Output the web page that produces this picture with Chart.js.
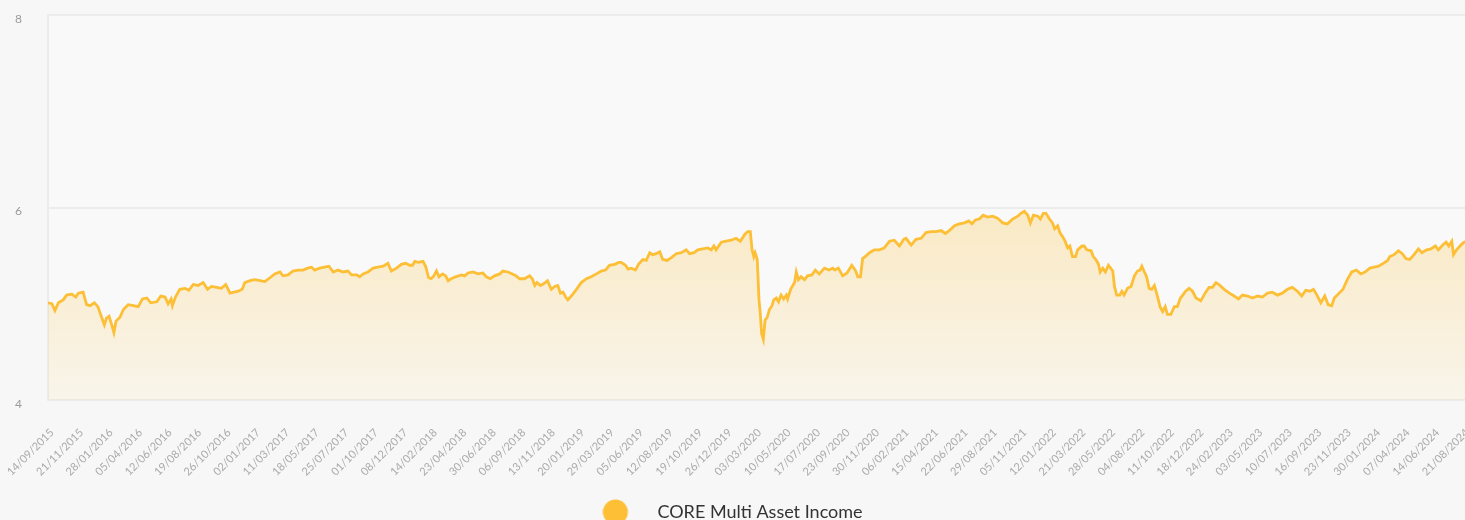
<!DOCTYPE html>
<html lang="en">
<head>
<meta charset="utf-8">
<title>CORE Multi Asset Income</title>
<script src="https://cdn.jsdelivr.net/npm/chart.js@4.4.1/dist/chart.umd.min.js"></script>
<style>
  html, body { margin: 0; padding: 0; background: #f7f7f7; overflow: hidden; }
  #wrap { width: 1471px; height: 531px; }
</style>
</head>
<body>
<div id="wrap"><canvas id="mycanvas" width="1471" height="531"></canvas></div>

<script>
const seriesName = 'CORE Multi Asset Income';
const startDate = '14/09/2015';

// x axis labels (every 68 days)
const tickLabels = ['14/09/2015','21/11/2015','28/01/2016','05/04/2016','12/06/2016','19/08/2016','26/10/2016',
  '02/01/2017','11/03/2017','18/05/2017','25/07/2017','01/10/2017','08/12/2017','14/02/2018','23/04/2018',
  '30/06/2018','06/09/2018','13/11/2018','20/01/2019','29/03/2019','05/06/2019','12/08/2019','19/10/2019',
  '26/12/2019','03/03/2020','10/05/2020','17/07/2020','23/09/2020','30/11/2020','06/02/2021','15/04/2021',
  '22/06/2021','29/08/2021','05/11/2021','12/01/2022','21/03/2022','28/05/2022','04/08/2022','11/10/2022',
  '18/12/2022','24/02/2023','03/05/2023','10/07/2023','16/09/2023','23/11/2023','30/01/2024','07/04/2024',
  '14/06/2024','21/08/2024'];

const yTicks = [4, 6, 8];

// days since 14/09/2015
const days = [0,9,16,24,35,43,55,64,70,81,89,97,107,115,122,130,135,141,147,152,157,166,174,185,197,208,218,228,237,251,
  260,270,277,284,287,294,304,316,325,335,346,358,368,377,389,400,410,420,429,439,448,454,466,477,489,500,512,523,535,542,
  554,565,577,588,599,608,615,627,638,648,658,
  669,681,692,700,712,719,727,738,750,761,773,784,792,804,815,825,834,841,846,854,865,871,878,884,890,896,902,910,917,923,
  930,940,954,961,969,980,992,1003,1011,1020,1030,1042,1049,1061,1071,1080,1088,1099,1111,1117,1123,1128,1136,1144,1152,
  1161,1169,1176,1182,1188,1194,1199,1207,1219,1230,1242,1253,1265,1276,1286,1295,1307,1317,
  1322,1332,1338,1345,1355,1362,1372,1380,1388,1395,1403,1411,1418,1428,1438,1449,1461,1472,1480,1490,1499,1510,1522,1530,
  1536,1541,1553,1564,1576,1587,1597,1607,1614,1620,1624,1628,1631,1636,1640,1643,1646,1650,1654,1659,1664,1670,1674,1680,
  1685,1691,1697,1703,1706,1713,1718,1722,1726,1731,1737,1745,1752,1762,1770,1779,1791,1802,1810,1815,1823,1833,1843,1854,
  1862,1868,1874,1879,1885,1895,1906,1918,1929,1941,1952,1964,1974,
  1979,1991,2002,2014,2025,2037,2048,2060,2070,2079,2091,2102,2114,2124,2131,2139,2148,2157,2167,2179,2190,2202,2213,2225,
  2237,2244,2252,2260,2266,2273,2283,2289,2296,2302,2310,2317,2322,2329,2334,2340,2346,2352,2357,2363,2370,2375,2385,2390,
  2396,2406,2411,2417,2423,2427,2433,2439,2446,2456,2460,2465,2472,2477,2482,2490,2498,2506,2513,2519,2523,2529,2534,2540,
  2546,2552,2559,2565,2571,2577,2582,2590,2598,2605,2612,2616,2624,2632,
  2640,2648,2659,2669,2678,2686,2694,2701,2713,2725,2736,2746,2755,2767,2778,2790,2801,2813,2824,2836,2847,2859,2870,2882,
  2892,2901,2911,2919,2927,2936,2945,2953,2961,2967,2976,2987,2997,3007,3018,3028,3038,3049,3059,3069,3080,3090,3095,3105,
  3115,3124,3132,3141,3151,3161,3169,3180,3190,3200,3207,3217,3225,3231,3238,3242,3249,3259,3266,3280];

const values = [5.01,5.00,4.93,5.01,5.04,5.09,5.10,5.07,5.11,5.12,4.99,4.98,5.01,4.97,4.88,4.78,4.85,4.87,4.78,4.70,
  4.82,4.86,4.94,4.99,4.98,4.97,5.05,5.06,5.01,5.02,5.08,5.07,5.00,5.05,4.98,5.07,5.15,5.16,5.14,5.20,
  5.19,5.22,5.15,5.18,5.17,5.16,5.20,5.11,5.12,5.13,5.15,5.22,5.24,5.25,5.24,5.23,5.27,5.31,5.33,5.29,
  5.30,5.34,5.35,5.35,5.37,5.38,5.35,5.37,5.38,5.39,5.33,
  5.35,5.33,5.34,5.30,5.30,5.28,5.31,5.33,5.37,5.38,5.39,5.42,5.34,5.37,5.41,5.42,5.40,5.40,5.44,5.43,
  5.44,5.39,5.27,5.26,5.29,5.34,5.28,5.31,5.29,5.24,5.26,5.28,5.30,5.29,5.32,5.33,5.31,5.32,5.28,5.26,
  5.29,5.31,5.34,5.33,5.31,5.29,5.26,5.26,5.29,5.26,5.19,5.22,5.19,5.21,5.24,5.15,5.18,5.19,5.11,5.12,
  5.07,5.04,5.08,5.15,5.22,5.26,5.28,5.31,5.34,5.35,5.40,5.41,5.43,
  5.43,5.40,5.36,5.37,5.35,5.41,5.46,5.45,5.53,5.51,5.52,5.54,5.46,5.45,5.48,5.52,5.53,5.56,5.52,5.53,
  5.56,5.57,5.58,5.56,5.60,5.56,5.64,5.65,5.66,5.68,5.65,5.72,5.75,5.75,5.56,5.49,5.53,5.46,5.04,4.90,
  4.69,4.63,4.83,4.86,4.94,4.98,5.04,5.06,5.02,5.09,5.05,5.09,5.05,5.15,5.19,5.22,5.33,5.25,5.28,5.25,
  5.29,5.30,5.35,5.31,5.37,5.35,5.37,5.35,5.37,5.29,5.32,5.40,5.35,5.28,5.28,5.47,5.49,5.53,5.56,5.56,
  5.58,5.65,5.66,5.60,5.67,
  5.68,5.61,5.67,5.68,5.74,5.75,5.75,5.76,5.73,5.76,5.81,5.83,5.84,5.86,5.83,5.87,5.88,5.92,5.90,5.91,
  5.89,5.84,5.83,5.88,5.91,5.94,5.96,5.92,5.84,5.92,5.91,5.88,5.94,5.94,5.88,5.84,5.78,5.81,5.74,5.70,
  5.65,5.58,5.60,5.49,5.49,5.56,5.60,5.60,5.56,5.55,5.49,5.46,5.41,5.33,5.37,5.33,5.40,5.34,5.18,5.09,
  5.09,5.13,5.09,5.16,5.18,5.29,5.34,5.35,5.39,5.33,5.28,5.16,5.15,5.19,5.08,4.97,4.92,4.97,4.89,4.89,
  4.97,4.97,5.06,5.08,5.13,5.16,
  5.13,5.06,5.03,5.11,5.17,5.17,5.22,5.20,5.15,5.11,5.08,5.05,5.09,5.08,5.06,5.08,5.07,5.11,5.12,5.09,
  5.11,5.15,5.17,5.13,5.08,5.14,5.13,5.15,5.09,5.01,5.08,4.99,4.98,5.06,5.10,5.15,5.25,5.33,5.35,5.31,
  5.33,5.37,5.38,5.39,5.42,5.45,5.49,5.51,5.55,5.52,5.47,5.46,5.51,5.57,5.53,5.56,5.57,5.60,5.56,5.61,
  5.64,5.60,5.65,5.51,5.56,5.61,5.64,5.66];

const lineColor = '#fcbf36';

// dd/mm/yyyy -> days since startDate
function toDays(s) {
  const p = s.split('/').map(Number);
  const q = startDate.split('/').map(Number);
  return Math.round((Date.UTC(p[2], p[1] - 1, p[0]) - Date.UTC(q[2], q[1] - 1, q[0])) / 86400000);
}
const tickDays = tickLabels.map(toDays);
const points = days.map((d, i) => ({x: d, y: values[i]}));

// legend marker: round dot sitting a bit left of the label box, so the gap to the text is wider
const legendDot = document.createElement('canvas');
legendDot.width = 66;
legendDot.height = 26;
(function () {
  const c = legendDot.getContext('2d');
  c.fillStyle = lineColor;
  c.beginPath();
  c.arc(13, 13, 12.5, 0, Math.PI * 2);
  c.fill();
})();

// slightly lighter plot area
const areaBg = {
  id: 'areaBg',
  beforeDraw(chart) {
    const {ctx, chartArea: a} = chart;
    ctx.save();
    ctx.fillStyle = '#f9f9f9';
    ctx.fillRect(a.left, a.top, a.right - a.left, a.bottom - a.top);
    ctx.restore();
  }
};

const ctx_live = document.getElementById('mycanvas');
const myChart = new Chart(ctx_live, {
  type: 'line',
  data: {
    datasets: [{
      label: seriesName,
      data: points,
      borderColor: lineColor,
      borderWidth: 2.8,
      pointRadius: 0,
      pointBackgroundColor: lineColor,
      pointBorderColor: lineColor,
      tension: 0,
      fill: 'start',
      backgroundColor: function (context) {
        const chart = context.chart;
        if (!chart.chartArea) return 'rgba(251,190,50,0.15)';
        const y = chart.scales.y;
        const g = chart.ctx.createLinearGradient(0, y.getPixelForValue(6), 0, y.getPixelForValue(4));
        g.addColorStop(0, 'rgba(251,190,50,0.27)');
        g.addColorStop(1, 'rgba(251,190,50,0.07)');
        return g;
      }
    }]
  },
  options: {
    responsive: false,
    animation: false,
    layout: { padding: { top: 15, left: 15, right: 1, bottom: 0 } },
    scales: {
      x: {
        type: 'linear',
        min: 0,
        max: days[days.length - 1],
        grid: { display: false, drawTicks: false },
        border: { display: false },
        afterBuildTicks: (scale) => { scale.ticks = tickDays.map(v => ({value: v})); },
        afterFit: (scale) => {
          scale.height = 93;
          // rotated labels may hang outside the plot, don't let them shrink it
          scale.paddingLeft = 0;
          scale.paddingRight = 0;
        },
        ticks: {
          autoSkip: false,
          maxRotation: 45,
          minRotation: 45,
          padding: 26,
          labelOffset: 4,
          color: '#aaaaaa',
          font: { family: 'Lato', size: 11 },
          callback: (value, index) => tickLabels[index]
        }
      },
      y: {
        min: yTicks[0],
        max: yTicks[yTicks.length - 1],
        afterBuildTicks: (scale) => { scale.ticks = yTicks.map(v => ({value: v})); },
        afterFit: (scale) => { scale.width = 33; },
        grid: { color: '#ececec', lineWidth: 2, drawTicks: false },
        border: { display: true, color: '#ececec', width: 2 },
        ticks: {
          crossAlign: 'far',
          labelOffset: 4,
          color: '#9a9a9a',
          font: { family: 'Lato', size: 12 }
        }
      }
    },
    plugins: {
      legend: {
        position: 'bottom',
        labels: {
          usePointStyle: true,
          pointStyle: legendDot,
          pointStyleWidth: 26,
          color: '#333333',
          font: { family: 'Lato', size: 18 }
        }
      },
      tooltip: { enabled: false }
    }
  },
  plugins: [areaBg]
});
</script>
</body>
</html>
